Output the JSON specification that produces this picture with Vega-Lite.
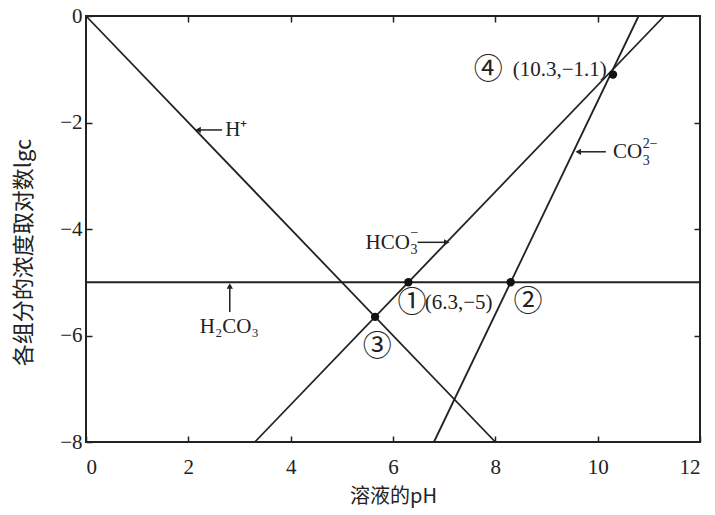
{
  "$schema": "https://vega.github.io/schema/vega-lite/v6.json",
  "width": 614,
  "height": 426,
  "autosize": "none",
  "padding": {"left": 86, "top": 16, "right": 15, "bottom": 73},
  "background": "white",
  "config": {
    "view": {"stroke": "#222", "strokeWidth": 2},
    "axis": {
      "grid": false,
      "domain": false,
      "zindex": 1,
      "tickColor": "#222",
      "tickWidth": 1.5,
      "labelFont": "Liberation Serif",
      "labelFontSize": 21,
      "labelColor": "#222",
      "titleFont": "Noto Sans CJK SC",
      "titleFontSize": 20,
      "titleFontWeight": "normal",
      "titleColor": "#222"
    },
    "text": {"font": "Liberation Serif, Noto Sans CJK SC", "fontSize": 21, "color": "#222", "baseline": "middle"}
  },
  "datasets": {
    "lines": [
      {"series": "H+", "pH": 0, "lgc": 0},
      {"series": "H+", "pH": 8, "lgc": -8},
      {"series": "H2CO3", "pH": 0, "lgc": -5},
      {"series": "H2CO3", "pH": 12, "lgc": -5},
      {"series": "HCO3-", "pH": 3.3, "lgc": -8},
      {"series": "HCO3-", "pH": 11.3, "lgc": 0},
      {"series": "CO3 2-", "pH": 6.8, "lgc": -8},
      {"series": "CO3 2-", "pH": 10.8, "lgc": 0}
    ],
    "points": [
      {"id": "1", "pH": 6.3, "lgc": -5},
      {"id": "2", "pH": 8.3, "lgc": -5},
      {"id": "3", "pH": 5.65, "lgc": -5.65},
      {"id": "4", "pH": 10.3, "lgc": -1.1}
    ],
    "arrows": [
      {"dir": "left", "pH": 2.66, "lgc": -2.14, "pHTip": 2.19, "lgcTip": -2.14},
      {"dir": "right", "pH": 6.48, "lgc": -4.25, "pHTip": 7.05, "lgcTip": -4.25},
      {"dir": "left", "pH": 10.16, "lgc": -2.55, "pHTip": 9.62, "lgcTip": -2.55},
      {"dir": "up", "pH": 2.81, "lgc": -5.56, "pHTip": 2.81, "lgcTip": -5.07}
    ],
    "labelsLeft": [
      {"label": "H⁺", "pH": 2.72, "lgc": -2.14},
      {"label": "CO", "pH": 10.3, "lgc": -2.55},
      {"label": "(6.3,−5)", "pH": 6.62, "lgc": -5.39}
    ],
    "labelsRight": [
      {"label": "HCO", "pH": 6.33, "lgc": -4.26},
      {"label": "(10.3,−1.1)", "pH": 10.18, "lgc": -1.02}
    ],
    "labelsCenter": [
      {"label": "H₂CO₃", "pH": 2.8, "lgc": -5.84}
    ],
    "circled": [
      {"label": "①", "pH": 6.37, "lgc": -5.39},
      {"label": "②", "pH": 8.64, "lgc": -5.37},
      {"label": "③", "pH": 5.69, "lgc": -6.22},
      {"label": "④", "pH": 7.86, "lgc": -1.02}
    ],
    "scripts": [
      {"label": "3", "pH": 6.34, "lgc": -4.4},
      {"label": "−", "pH": 6.34, "lgc": -4.08},
      {"label": "3", "pH": 10.88, "lgc": -2.72},
      {"label": "2−", "pH": 10.88, "lgc": -2.4}
    ]
  },
  "layer": [
    {
      "data": {"name": "lines"},
      "mark": {"type": "line", "color": "#222", "strokeWidth": 1.8},
      "encoding": {
        "x": {
          "field": "pH", "type": "quantitative",
          "scale": {"domain": [0, 12], "nice": false, "zero": false},
          "axis": {"orient": "bottom", "values": [0, 2, 4, 6, 8, 10, 12], "tickSize": -6, "labelPadding": 20, "title": "溶液的pH", "titlePadding": 9}
        },
        "y": {
          "field": "lgc", "type": "quantitative",
          "scale": {"domain": [-8, 0], "nice": false, "zero": false},
          "axis": {"orient": "left", "values": [-8, -6, -4, -2, 0], "tickSize": -6, "labelPadding": 10, "title": "各组分的浓度取对数lgc", "titleFontSize": 22, "titlePadding": 24, "titleY": 236}
        },
        "detail": {"field": "series"}
      }
    },
    {
      "data": {"name": "points"},
      "mark": {"type": "circle", "color": "#111", "size": 70, "opacity": 1},
      "encoding": {
        "x": {"field": "pH", "type": "quantitative", "axis": {"orient": "top", "values": [2, 4, 6, 8, 10], "tickSize": -6, "labels": false, "title": null}},
        "y": {"field": "lgc", "type": "quantitative", "axis": {"orient": "right", "values": [-6, -4, -2], "tickSize": -6, "labels": false, "title": null}}
      }
    },
    {
      "data": {"name": "arrows"},
      "mark": {"type": "rule", "color": "#222", "strokeWidth": 1.5},
      "encoding": {
        "x": {"field": "pH", "type": "quantitative", "axis": null},
        "y": {"field": "lgc", "type": "quantitative", "axis": null},
        "x2": {"field": "pHTip"},
        "y2": {"field": "lgcTip"}
      }
    },
    {
      "data": {"name": "arrows"},
      "mark": {"type": "point", "filled": true, "color": "#222", "size": 40, "opacity": 1},
      "encoding": {
        "x": {"field": "pHTip", "type": "quantitative", "axis": null},
        "y": {"field": "lgcTip", "type": "quantitative", "axis": null},
        "shape": {
          "field": "dir", "type": "nominal", "legend": null,
          "scale": {"domain": ["left", "right", "up"], "range": ["triangle-left", "triangle-right", "triangle-up"]}
        }
      }
    },
    {
      "data": {"name": "labelsLeft"},
      "mark": {"type": "text", "align": "left"},
      "encoding": {
        "x": {"field": "pH", "type": "quantitative", "axis": null},
        "y": {"field": "lgc", "type": "quantitative", "axis": null},
        "text": {"field": "label"}
      }
    },
    {
      "data": {"name": "labelsRight"},
      "mark": {"type": "text", "align": "right"},
      "encoding": {
        "x": {"field": "pH", "type": "quantitative", "axis": null},
        "y": {"field": "lgc", "type": "quantitative", "axis": null},
        "text": {"field": "label"}
      }
    },
    {
      "data": {"name": "labelsCenter"},
      "mark": {"type": "text", "align": "center"},
      "encoding": {
        "x": {"field": "pH", "type": "quantitative", "axis": null},
        "y": {"field": "lgc", "type": "quantitative", "axis": null},
        "text": {"field": "label"}
      }
    },
    {
      "data": {"name": "circled"},
      "mark": {"type": "text", "align": "center", "font": "Noto Sans CJK SC", "fontSize": 29},
      "encoding": {
        "x": {"field": "pH", "type": "quantitative", "axis": null},
        "y": {"field": "lgc", "type": "quantitative", "axis": null},
        "text": {"field": "label"}
      }
    },
    {
      "data": {"name": "scripts"},
      "mark": {"type": "text", "align": "left", "fontSize": 14},
      "encoding": {
        "x": {"field": "pH", "type": "quantitative", "axis": null},
        "y": {"field": "lgc", "type": "quantitative", "axis": null},
        "text": {"field": "label"}
      }
    }
  ],
  "resolve": {"axis": {"x": "independent", "y": "independent"}}
}
